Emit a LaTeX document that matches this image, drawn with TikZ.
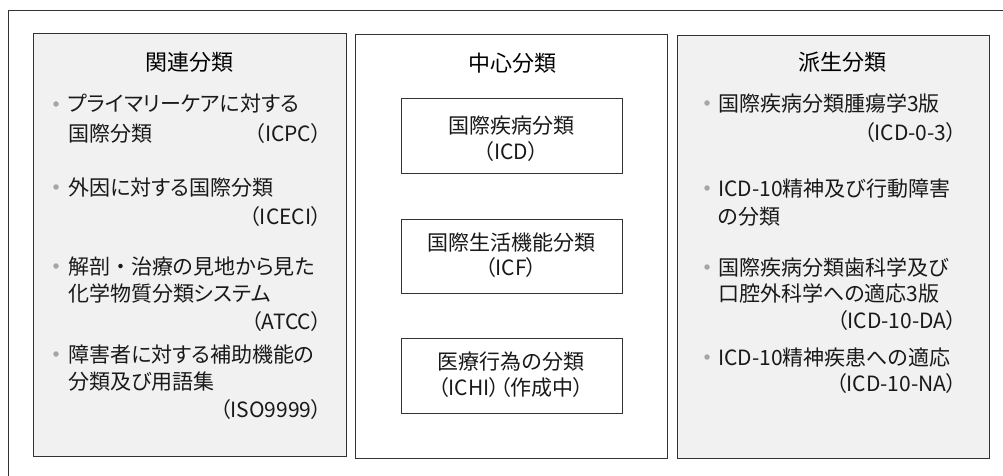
\documentclass[tikz,border=0pt]{standalone}
\usepackage{fontspec}
\newfontfamily\jp[RawFeature=+palt]{Noto Sans CJK JP}
\newfontfamily\jpfull{Noto Sans CJK JP}
\definecolor{ln}{gray}{0.2}
\definecolor{panelgray}{gray}{0.945}
\tikzset{
  panel/.style={draw=ln, line width=1pt},
  innerbox/.style={draw=ln, line width=1pt},
  ttl/.style={font=\jp\fontsize{22}{26}\selectfont, inner sep=0pt, anchor=base},
  itm/.style={font=\jp\fontsize{21}{26}\selectfont, inner sep=0pt, anchor=base west, text=black!90},
  par/.style={font=\jp\fontsize{21}{26}\selectfont, inner sep=0pt, anchor=base east, text=black!90},
  ctr/.style={font=\jp\fontsize{21}{26}\selectfont, inner sep=0pt, anchor=base, text=black!90},
  dot/.style={circle, fill=gray!70, inner sep=0pt, minimum size=5.5pt}
}
\begin{document}
\begin{tikzpicture}[x=1pt,y=-1pt]
\useasboundingbox (0,0) rectangle (1003,476);
% outer frame
\coordinate (ofa) at (8,476);
\coordinate (ofb) at (8,11);
\coordinate (ofc) at (1003,11);
\draw[ln, line width=1pt] (ofa) -- (ofb) -- (ofc);
% panels
\draw[panel, fill=panelgray] (33,34) rectangle (346,456);
\draw[panel, fill=white] (355,35) rectangle (667,458);
\draw[panel, fill=panelgray] (677,36) rectangle (989,458);
% titles
\node[ttl] (t1) at (189,71) {関連分類};
\node[ttl] (t2) at (512,72) {中心分類};
\node[ttl] (t3) at (842,71) {派生分類};
% left items
\node[dot] (d1) at (56,104) {};
\node[itm] (l1a) at (68,112) {プライマリーケアに対する};
\node[itm] (l1b) at (68,142) {国際分類};
\node[par] (l1c) at (322,142) {（ICPC）};
\node[dot] (d2) at (56,187) {};
\node[itm] (l2a) at (68,195) {外因に対する国際分類};
\node[par] (l2c) at (322,224) {（ICECI）};
\node[dot] (d3) at (56,266) {};
\node[itm] (l3a) at (68,274) {解剖{\jpfull ・}治療の見地から見た};
\node[itm] (l3b) at (68,301) {化学物質分類システム};
\node[par] (l3c) at (322,329) {（ATCC）};
\node[dot] (d4) at (56,354) {};
\node[itm] (l4a) at (68,362) {障害者に対する補助機能の};
\node[itm] (l4b) at (68,389) {分類及び用語集};
\node[par] (l4c) at (322,417) {（ISO9999）};
% middle boxes
\draw[innerbox] (401,99) rectangle (622,173);
\draw[innerbox] (401,219) rectangle (622,293);
\draw[innerbox] (401,338) rectangle (622,413);
\node[ctr] (m1a) at (511,134) {国際疾病分類};
\node[ctr] (m1b) at (511,159) {（ICD）};
\node[ctr] (m2a) at (511,250) {国際生活機能分類};
\node[ctr] (m2b) at (511,275) {（ICF）};
\node[ctr] (m3a) at (511,369) {医療行為の分類};
\node[ctr] (m3b) at (511,395) {（ICHI）（作成中）};
% right items
\node[dot] (e1) at (707,103) {};
\node[itm] (r1a) at (718,111) {国際疾病分類腫瘍学3版};
\node[par] (r1c) at (957,140) {（ICD-0-3）};
\node[dot] (e2) at (707,188) {};
\node[itm] (r2a) at (718,196) {ICD-10精神及び行動障害};
\node[itm] (r2b) at (718,224) {の分類};
\node[dot] (e3) at (707,267) {};
\node[itm] (r3a) at (718,275) {国際疾病分類歯科学及び};
\node[itm] (r3b) at (718,301) {口腔外科学への適応3版};
\node[par] (r3c) at (957,328) {（ICD-10-DA）};
\node[dot] (e4) at (707,357) {};
\node[itm] (r4a) at (718,365) {ICD-10精神疾患への適応};
\node[par] (r4c) at (957,391) {（ICD-10-NA）};
\end{tikzpicture}
\end{document}
